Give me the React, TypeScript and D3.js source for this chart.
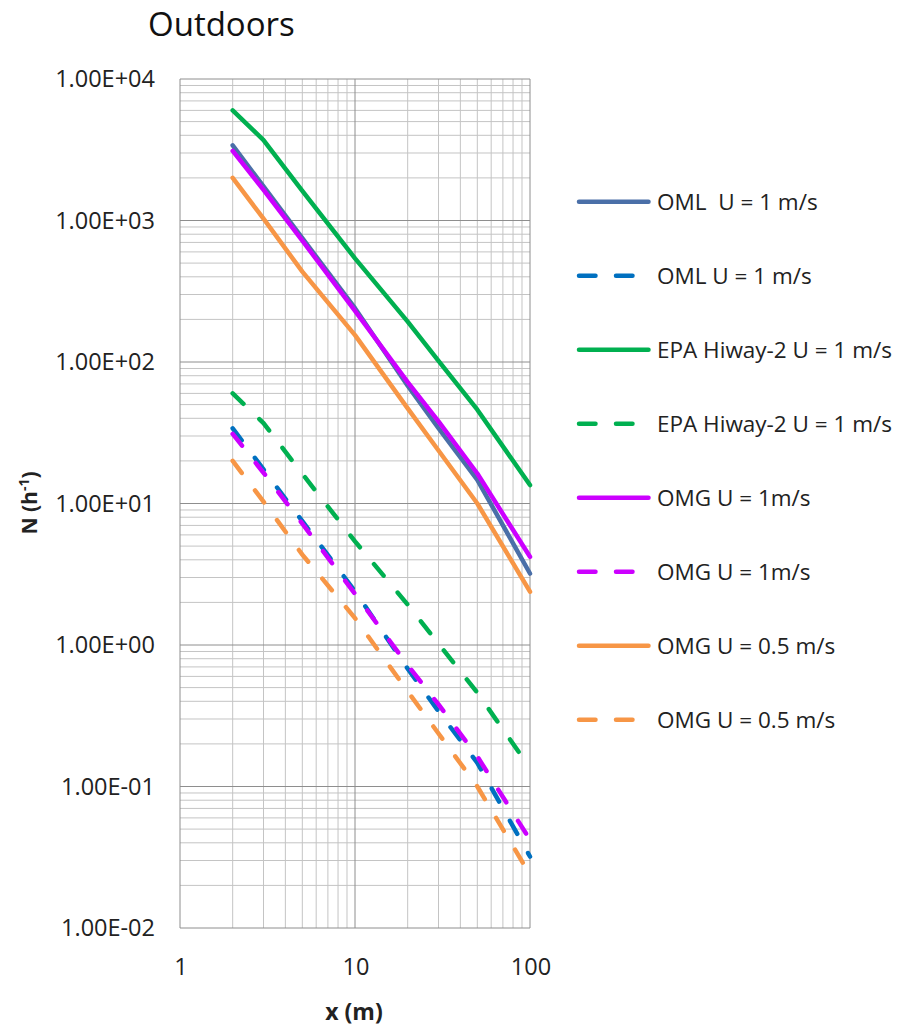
import React from 'react';
import * as d3 from 'd3';

// ---- data ----
const xValues = [2, 3, 5, 10, 20, 30, 50, 100];
const omlSolid = [3400, 1740, 750, 240, 68, 34, 14.7, 3.2];
const omlDashed = [34, 17.4, 7.5, 2.4, 0.68, 0.34, 0.147, 0.032];
const epaSolid = [6000, 3700, 1620, 540, 193, 102, 46, 13.5];
const epaDashed = [60, 37, 16.2, 5.4, 1.93, 1.02, 0.46, 0.135];
const omgSolid = [3100, 1650, 720, 230, 72, 38, 16.3, 4.2];
const omgDashed = [31, 16.5, 7.2, 2.3, 0.72, 0.38, 0.163, 0.042];
const omg05Solid = [2000, 1030, 435, 155, 47, 23.7, 10, 2.38];
const omg05Dashed = [20, 10.3, 4.35, 1.55, 0.47, 0.237, 0.1, 0.0238];

const seriesNames = [
  'OML  U = 1 m/s',
  'OML U = 1 m/s',
  'EPA Hiway-2 U = 1 m/s',
  'EPA Hiway-2 U = 1 m/s',
  'OMG U = 1m/s',
  'OMG U = 1m/s',
  'OMG U = 0.5 m/s',
  'OMG U = 0.5 m/s',
];
const seriesValues = [omlSolid, omlDashed, epaSolid, epaDashed, omgSolid, omgDashed, omg05Solid, omg05Dashed];
const seriesColors = ['#4A6FA8', '#0070C0', '#00B050', '#00B050', '#CC00FF', '#CC00FF', '#F79646', '#F79646'];
const seriesDashed = [false, true, false, true, false, true, false, true];

const yTickValues = [1e4, 1e3, 1e2, 1e1, 1e0, 1e-1, 1e-2];
const yTickLabels = ['1.00E+04', '1.00E+03', '1.00E+02', '1.00E+01', '1.00E+00', '1.00E-01', '1.00E-02'];
const xTickValues = [1, 10, 100];
const xTickLabels = ['1', '10', '100'];

const title = 'Outdoors';
const xTitle = 'x (m)';

// ---- layout ----
const W = 919;
const H = 1029;
const PL = 180, PR = 530, PT = 79, PB = 928;
const FONT = "'Open Sans', 'Liberation Sans', Arial, sans-serif";

export default function App() {
  const x = d3.scaleLog().domain([1, 100]).range([PL, PR]);
  const y = d3.scaleLog().domain([0.01, 10000]).range([PB, PT]);

  const xMinor: number[] = [];
  for (let d = 0; d < 2; d++) for (let k = 2; k <= 9; k++) xMinor.push(k * Math.pow(10, d));
  const yMinor: number[] = [];
  for (let d = -2; d < 4; d++) for (let k = 2; k <= 9; k++) yMinor.push(k * Math.pow(10, d));

  const line = d3
    .line<number>()
    .x((_, i) => x(xValues[i]))
    .y((v) => y(v));

  const minorColor = '#C4C4C4';
  const majorColor = '#8E8E8E';
  const dash = '15 22';

  return (
    <svg width={W} height={H} style={{ position: 'absolute', left: 0, top: 0, background: '#fff' }} fontFamily={FONT}>
      <rect x={0} y={0} width={W} height={H} fill="#fff" />
      {/* minor grid */}
      {yMinor.map((v, i) => (
        <line key={'ym' + i} x1={PL} x2={PR} y1={y(v)} y2={y(v)} stroke={minorColor} strokeWidth={1} />
      ))}
      {xMinor.map((v, i) => (
        <line key={'xm' + i} x1={x(v)} x2={x(v)} y1={PT} y2={PB} stroke={minorColor} strokeWidth={1} />
      ))}
      {/* major grid */}
      {yTickValues.map((v, i) => (
        <line key={'yM' + i} x1={PL} x2={PR} y1={y(v)} y2={y(v)} stroke={majorColor} strokeWidth={1} />
      ))}
      {xTickValues.map((v, i) => (
        <line key={'xM' + i} x1={x(v)} x2={x(v)} y1={PT} y2={PB} stroke={majorColor} strokeWidth={1} />
      ))}

      {/* series */}
      {seriesValues.map((vals, i) => (
        <path
          key={'s' + i}
          d={line(vals) || ''}
          fill="none"
          stroke={seriesColors[i]}
          strokeWidth={4.5}
          strokeLinecap="round"
          strokeLinejoin="round"
          strokeDasharray={seriesDashed[i] ? dash : undefined}
        />
      ))}

      {/* y tick labels */}
      {yTickValues.map((v, i) => (
        <text key={'yt' + i} x={155} y={y(v)} dy="0.35em" textAnchor="end" fontSize={23.5} fill="#222">
          {yTickLabels[i]}
        </text>
      ))}
      {/* x tick labels */}
      {xTickValues.map((v, i) => (
        <text key={'xt' + i} x={x(v) + 1} y={967} dy="0.35em" textAnchor="middle" fontSize={23.5} fill="#222">
          {xTickLabels[i]}
        </text>
      ))}

      {/* titles */}
      <text x={148} y={36} fontSize={33} fill="#111">
        {title}
      </text>
      <text x={354} y={1012} dy="0.35em" textAnchor="middle" fontSize={23} fontWeight="bold" fill="#222">
        {xTitle}
      </text>
      <text transform={`translate(30,503) rotate(-90)`} textAnchor="middle" dy="0.35em" fontSize={21} fontWeight="bold" fill="#222">
        N (h<tspan fontSize={14} dy="-8">-1</tspan>
        <tspan dy="8">)</tspan>
      </text>

      {/* legend */}
      {seriesNames.map((name, i) => {
        const ly = 201.7 + i * 74;
        return (
          <g key={'lg' + i}>
            <line
              x1={579}
              x2={648.5}
              y1={ly}
              y2={ly}
              stroke={seriesColors[i]}
              strokeWidth={4.5}
              strokeLinecap="round"
              strokeDasharray={seriesDashed[i] ? '16.5 20.5' : undefined}
            />
            <text x={657} y={ly} dy="0.35em" fontSize={22.5} fill="#222" style={{ whiteSpace: 'pre' }}>
              {name}
            </text>
          </g>
        );
      })}
    </svg>
  );
}
